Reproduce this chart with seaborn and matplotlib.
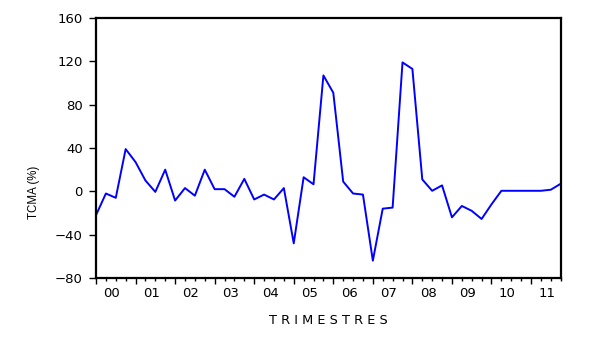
import matplotlib
matplotlib.use("Agg")
import matplotlib.pyplot as plt
import matplotlib.transforms as mtransforms
import seaborn as sns
import numpy as np
import pandas as pd

years = ["00", "01", "02", "03", "04", "05", "06", "07", "08", "09", "10", "11"]
tcma = [-22, -2, -6, 39, 27, 10, -0.5, 20, -8.5, 3, -4, 20,
        2, 2, -5, 11.5, -7.5, -3, -7.5, 3, -48, 13, 6.5, 107,
        91, 9, -2, -3, -64, -16, -15, 119, 113, 11, 0.5, 5.5,
        -24, -13.5, -18, -25.5, -12, 0.5, 0.5, 0.5, 0.5, 0.5, 1.5, 7]

df = pd.DataFrame({"q": np.arange(len(tcma)), "tcma": tcma})

sns.set_theme(style="white")
plt.rcParams["font.family"] = ["DejaVu Sans"]

fig = plt.figure(figsize=(5.94, 3.44), dpi=100)
ax = fig.add_axes([96/594, 1-278/344, (560.7-96)/594, (278-18)/344])
sns.lineplot(data=df, x="q", y="tcma", ax=ax, color=(0, 0, 1), linewidth=1.4)

n = len(tcma)
ax.set_xlim(0, n-1)
ax.set_ylim(-80, 160)
ax.set_yticks(np.arange(-80, 161, 40))
ax.set_xticks(np.arange(0, n, 4))
ax.set_xticklabels([])
ax.set_xticks(np.arange(0, n), minor=True)

ax.tick_params(axis="x", which="major", direction="out", length=4.5, width=1, color="black", bottom=True)
ax.tick_params(axis="x", which="minor", direction="out", length=2.5, width=1, color="black", bottom=True)
ax.tick_params(axis="y", which="major", direction="out", length=5, width=1, color="black", left=True,
               labelsize=9.5, pad=4.5, labelcolor="black")

trans = mtransforms.blended_transform_factory(ax.transData, fig.transFigure)
for k, lab in enumerate(years):
    ax.text(4*k + 1.6, 1 - 293.6/344, lab, transform=trans, ha="center", va="center",
            fontsize=9.5, color="black", clip_on=False)

for s in ax.spines.values():
    s.set_color("black")
    s.set_linewidth(1.6)

fig.text((96+560.7)/2/594, 1 - 321/344, "T R I M E S T R E S", ha="center", va="center",
         fontsize=9.3, color="black")
fig.text(34/594, 1 - 192/344, "TCMA (%)", rotation=90, ha="center", va="center",
         fontsize=8.3, color="black", family=["Liberation Sans", "DejaVu Sans"])
ax.set_ylabel("")
ax.set_xlabel("")
ax.grid(False)

fig.savefig("out.png", dpi=100)
